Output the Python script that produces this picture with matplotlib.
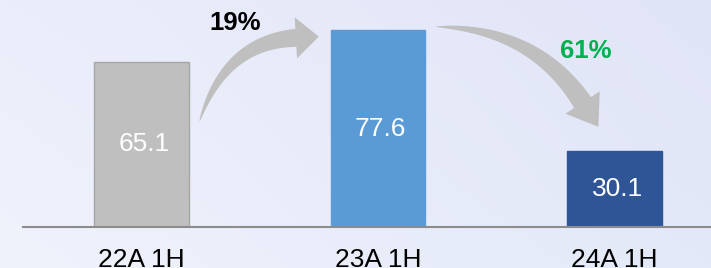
import numpy as np
import matplotlib
matplotlib.use("Agg")
import matplotlib.pyplot as plt
from matplotlib.patches import Polygon

plt.rcParams['font.family'] = ['Liberation Sans', 'DejaVu Sans']

# ---- data ----
categories = ["22A 1H", "23A 1H", "24A 1H"]
values = [65.1, 77.6, 30.1]
bar_colors = ["#BFBFBF", "#5B9BD5", "#2F5597"]
bar_edges = ["#A6A6A6", "#5B9BD5", "#2F5597"]
change_labels = ["19%", "61%"]
change_colors = ["#000000", "#00B050"]

W, H = 711, 268
fig = plt.figure(figsize=(W / 100, H / 100), dpi=100)

# background gradient
bg = fig.add_axes([0, 0, 1, 1], zorder=-10)
tl = np.array([235, 238, 250]) / 255
tr = np.array([224, 228, 247]) / 255
bl = np.array([240, 243, 252]) / 255
br = np.array([227, 233, 248]) / 255
u = np.linspace(0, 1, 200)[None, :, None]
v = np.linspace(0, 1, 80)[:, None, None]
img = (1 - v) * ((1 - u) * tl + u * tr) + v * ((1 - u) * bl + u * br)
bg.imshow(img, aspect='auto', extent=[0, 1, 0, 1], interpolation='bilinear')
bg.axis('off')

base_px = 227
ax = fig.add_axes([0, (H - base_px) / H, 1, base_px / H])
ax.set_facecolor('none')
px_per_unit = 2.535
ax.set_xlim(-0.598, 2.408)
ax.set_ylim(0, base_px / px_per_unit)

x = np.arange(len(categories))
ax.bar(x, values, width=0.40, color=bar_colors, edgecolor=bar_edges,
       linewidth=1.0, zorder=2)

for xi, v_ in zip(x, values):
    ax.text(xi + 0.012, v_ / 2, f"{v_:.1f}", color='white', fontsize=19,
            ha='center', va='center', zorder=3)

for s in ['top', 'right', 'left']:
    ax.spines[s].set_visible(False)
ax.spines['bottom'].set_color('#8C8C8C')
ax.spines['bottom'].set_linewidth(1.5)
ax.spines['bottom'].set_bounds(-0.5, 2.408)
ax.spines['bottom'].set_zorder(4)
ax.set_yticks([])
ax.set_xticks(x)
ax.set_xticklabels(categories, fontsize=19, color='black')
ax.tick_params(axis='x', length=0, pad=15)


def curved_arrow(ax, p0, c, p1, shaft_w, head_w, head_len, color):
    T = ax.transData
    P0, C, P1 = T.transform([p0, c, p1])
    t = np.linspace(0, 1, 80)[:, None]
    B = (1 - t) ** 2 * P0 + 2 * (1 - t) * t * C + t ** 2 * P1
    dB = 2 * (1 - t) * (C - P0) + 2 * t * (P1 - C)
    tan = dB / np.linalg.norm(dB, axis=1, keepdims=True)
    nrm = np.column_stack([-tan[:, 1], tan[:, 0]])
    w = shaft_w / 2 * t ** 0.7
    left = B + nrm * w
    right = B - nrm * w
    d = tan[-1]
    n = nrm[-1]
    head = np.array([P1 + n * head_w / 2, P1 + d * head_len, P1 - n * head_w / 2])
    pts = np.vstack([left, head, right[::-1]])
    pts_data = T.inverted().transform(pts)
    ax.add_patch(Polygon(pts_data, closed=True, facecolor=color,
                         edgecolor='none', zorder=1, clip_on=False))


curved_arrow(ax, (0.245, 41.5), (0.353, 73.0), (0.653, 74.6),
             shaft_w=18, head_w=41, head_len=23, color='#BFBFBF')
curved_arrow(ax, (1.243, 79.0), (1.660, 78.5), (1.865, 49.1),
             shaft_w=20, head_w=41, head_len=29, color='#BFBFBF')

ax.text(0.395, 80.3, change_labels[0], color=change_colors[0], fontsize=18.5,
        fontweight='bold', ha='center', va='center')
ax.text(1.877, 69.6, change_labels[1], color=change_colors[1], fontsize=18.5,
        fontweight='bold', ha='center', va='center')

fig.savefig("out.png", dpi=100)
